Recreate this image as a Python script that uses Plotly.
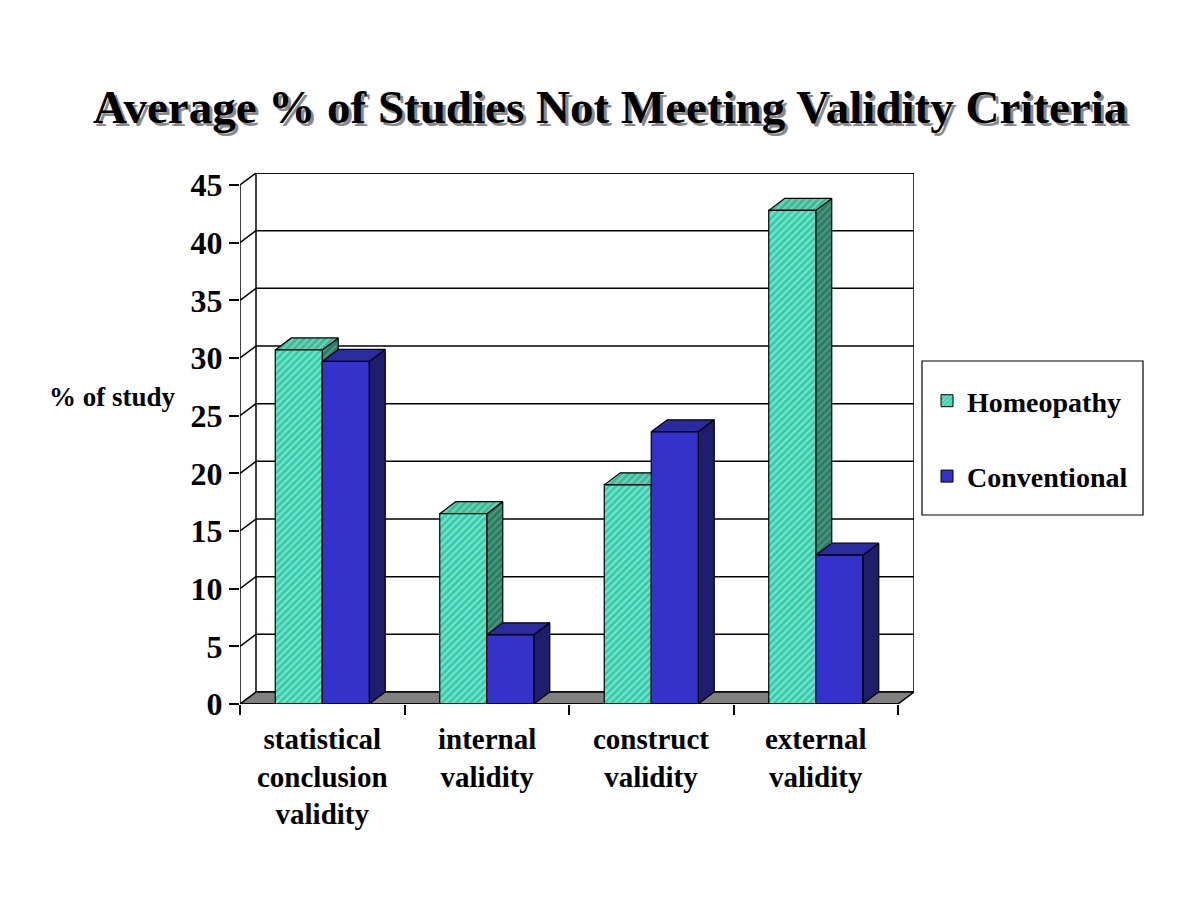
import plotly.graph_objects as go

# ---------------- data ----------------
categories = ["statistical<br>conclusion<br>validity", "internal<br>validity",
              "construct<br>validity", "external<br>validity"]
series_names = ["Homeopathy", "Conventional"]
homeopathy = [30.7, 16.5, 19.0, 42.8]
conventional = [29.7, 6.0, 23.6, 12.9]
y_ticks = [0, 5, 10, 15, 20, 25, 30, 35, 40, 45]

# ---------------- geometry / style ----------------
OFF = 8  # page body margin of the html page
W, H = 1200 - OFF, 900 - OFF
PLOT_L, PLOT_R, PLOT_T, PLOT_B = 240 - OFF, 914 - OFF, 173 - OFF, 704 - OFF
DEPTH_X_PX, DEPTH_Y_PX = 16, 12
YMAX = y_ticks[-1]
n = len(categories)
cat_px = (PLOT_R - PLOT_L - DEPTH_X_PX) / n
unit_px = (PLOT_B - PLOT_T - DEPTH_Y_PX) / YMAX
DX = DEPTH_X_PX / cat_px
DY = DEPTH_Y_PX / unit_px
BAR_W = 47 / cat_px

FONT = "Liberation Serif, Times New Roman, serif"


def px_x(px):
    return (px - OFF - PLOT_L) / (PLOT_R - PLOT_L)


def px_y(py):
    return (PLOT_B - (py - OFF)) / (PLOT_B - PLOT_T)


styles = {
    "Homeopathy": {
        "front": ("#33CCAA", "#C4FBEE"),
        "top": ("#3BB897", "#A5EDD8"),
        "side": ("#2A7A62", "#67B79C"),
        "pattern": "/",
    },
    "Conventional": {
        "front": ("#3333CC", "#3333CC"),
        "top": ("#2B2BA0", "#2B2BA0"),
        "side": ("#1E1E6E", "#1E1E6E"),
        "pattern": "",
    },
}

fig = go.Figure()


def face(xs, ys, colors, pattern):
    bg, fg = colors
    kw = dict(x=xs, y=ys, mode="lines", fill="toself", fillcolor=bg,
              line=dict(color="black", width=1.2), hoverinfo="skip",
              showlegend=False)
    if pattern:
        kw["fillpattern"] = dict(shape=pattern, bgcolor=bg, fgcolor=fg,
                                 size=5, solidity=0.42)
    fig.add_trace(go.Scatter(**kw))


def add_bar(x0, x1, v, st):
    face([x1, x1 + DX, x1 + DX, x1, x1], [0, DY, v + DY, v, 0], st["side"], st["pattern"])
    face([x0, x1, x1 + DX, x0 + DX, x0], [v, v, v + DY, v + DY, v], st["top"], st["pattern"])
    face([x0, x1, x1, x0, x0], [0, 0, v, v, 0], st["front"], st["pattern"])


for i in range(n):
    c = i + 0.5
    add_bar(c - BAR_W, c, homeopathy[i], styles["Homeopathy"])
    add_bar(c, c + BAR_W, conventional[i], styles["Conventional"])

# legend-only traces
for name in series_names:
    st = styles[name]
    bg, fg = st["front"]
    marker = dict(color=bg, line=dict(color="black", width=1))
    if st["pattern"]:
        marker["pattern"] = dict(shape=st["pattern"], bgcolor=bg, fgcolor=fg,
                                 size=4, solidity=0.4)
    fig.add_trace(go.Bar(x=[None], y=[None], name=name, marker=marker,
                         legendgroup=name, hoverinfo="skip"))

# ---------------- walls, floor, gridlines ----------------
shapes = []
shapes.append(dict(type="path", xref="x", yref="y", layer="below",
                   path=f"M{DX},{DY} L{n + DX},{DY} L{n + DX},{YMAX + DY} L{DX},{YMAX + DY} Z",
                   fillcolor="white", line=dict(color="black", width=1.5)))
for v in y_ticks[1:]:
    shapes.append(dict(type="line", xref="x", yref="y", layer="below",
                       x0=DX, x1=n + DX, y0=v + DY, y1=v + DY,
                       line=dict(color="black", width=1.5)))
    shapes.append(dict(type="line", xref="x", yref="y", layer="below",
                       x0=0, x1=DX, y0=v, y1=v + DY,
                       line=dict(color="black", width=1.5)))
shapes.append(dict(type="path", xref="x", yref="y", layer="below",
                   path=f"M0,0 L{n},0 L{n + DX},{DY} L{DX},{DY} Z",
                   fillcolor="#808080", line=dict(color="black", width=1.5)))
shapes.append(dict(type="line", xref="x", yref="y", x0=0, x1=0, y0=0, y1=YMAX,
                   line=dict(color="black", width=1.5)))
shapes.append(dict(type="line", xref="x", yref="y", x0=0, x1=n, y0=0, y1=0,
                   line=dict(color="black", width=1.5)))
shapes.append(dict(type="rect", xref="paper", yref="paper",
                   x0=px_x(922), x1=px_x(1143), y0=px_y(515), y1=px_y(361),
                   fillcolor="white", line=dict(color="black", width=1.2), layer="below"))

# ---------------- annotations ----------------
title = "Average % of Studies Not Meeting Validity Criteria"
annotations = [
    dict(text=title, xref="paper", yref="paper", x=px_x(613), y=px_y(110),
         showarrow=False, xanchor="center", yanchor="middle",
         font=dict(family=FONT, size=47, color="#8a8a8a", weight="bold")),
    dict(text=title, xref="paper", yref="paper", x=px_x(610), y=px_y(107),
         showarrow=False, xanchor="center", yanchor="middle",
         font=dict(family=FONT, size=47, color="black", weight="bold")),
    dict(text="% of study", xref="paper", yref="paper", x=px_x(113), y=px_y(397),
         showarrow=False, xanchor="center", yanchor="middle",
         font=dict(family=FONT, size=27, color="black", weight="bold")),
]
for i, lab in enumerate(categories):
    annotations.append(dict(text=lab, xref="x", yref="paper", x=i + 0.5, y=px_y(721),
                            showarrow=False, xanchor="center", yanchor="top",
                            font=dict(family=FONT, size=29, color="black", weight="bold")))

fig.update_layout(
    width=W, height=H,
    margin=dict(l=PLOT_L, r=W - PLOT_R, t=PLOT_T, b=H - PLOT_B, autoexpand=False),
    paper_bgcolor="white", plot_bgcolor="rgba(0,0,0,0)",
    shapes=shapes, annotations=annotations,
    showlegend=True,
    legend=dict(x=px_x(927), y=px_y(376), xanchor="left", yanchor="top",
                bgcolor="rgba(0,0,0,0)", borderwidth=0,
                traceorder="grouped", tracegroupgap=36,
                font=dict(family=FONT, size=28, color="black", weight="bold")),
    xaxis=dict(range=[0, n + DX], showgrid=False, zeroline=False, showline=False,
               tickmode="array", tickvals=list(range(n + 1)), ticks="outside",
               ticklen=10, tickwidth=1.5, tickcolor="black", showticklabels=False,
               fixedrange=True),
    yaxis=dict(range=[0, YMAX + DY], showgrid=False, zeroline=False, showline=False,
               tickmode="array", tickvals=y_ticks, ticks="outside",
               ticklen=10, tickwidth=1.5, tickcolor="black",
               tickfont=dict(family=FONT, size=32, color="black", weight="bold"),
               fixedrange=True),
)

fig.write_html("out.html")
